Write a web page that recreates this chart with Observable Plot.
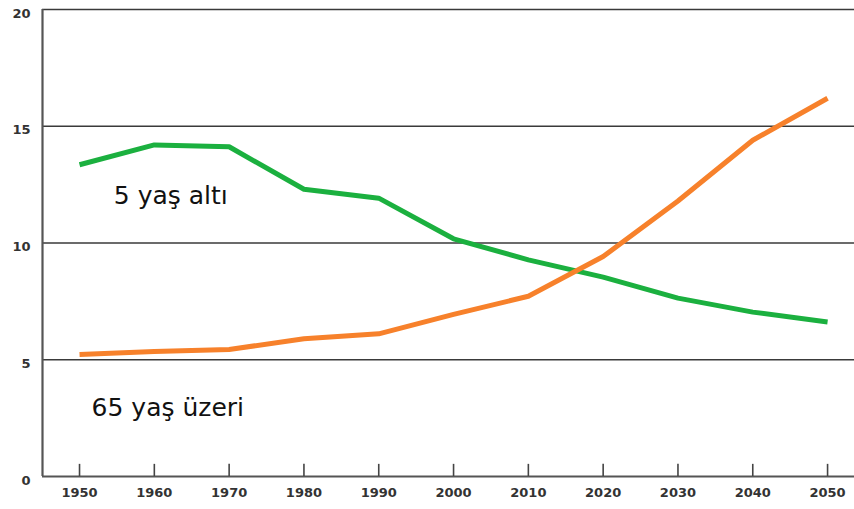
<!DOCTYPE html>
<html>
<head>
<meta charset="utf-8">
<script src="https://cdn.jsdelivr.net/npm/d3@7"></script>
<script src="https://cdn.jsdelivr.net/npm/@observablehq/plot@0.6"></script>
<style>
  html, body { margin: 0; padding: 0; background: #fff; }
  #chart svg { display: block; }
</style>
</head>
<body>
<div id="chart"></div>
<script>
const years = [1950, 1960, 1970, 1980, 1990, 2000, 2010, 2020, 2030, 2040, 2050];
const under5 = [13.35, 14.2, 14.12, 12.3, 11.92, 10.18, 9.28, 8.54, 7.64, 7.04, 6.62];
const over65 = [5.22, 5.35, 5.44, 5.9, 6.11, 6.94, 7.72, 9.42, 11.8, 14.4, 16.2];
const yTicks = [0, 5, 10, 15, 20];
const gridValues = [5, 10, 15, 20];
const seriesNames = ["5 yaş altı", "65 yaş üzeri"];
const seriesColors = ["#1bb03f", "#f7812b"];
const labelYears = [1962.2, 1961.8];
const labelValues = [12.0, 2.95];

const rows = [];
years.forEach((yr, i) => {
  rows.push({year: yr, value: under5[i], series: seriesNames[0]});
  rows.push({year: yr, value: over65[i], series: seriesNames[1]});
});
const labels = seriesNames.map((s, i) => ({name: s, year: labelYears[i], value: labelValues[i]}));

const chart = Plot.plot({
  width: 854,
  height: 509,
  marginLeft: 42,
  marginRight: 0,
  marginTop: 9,
  marginBottom: 33,
  style: {background: "#fff", fontFamily: "DejaVu Sans"},
  x: {domain: [1945.05, 2053.6], ticks: years, tickFormat: d => String(d), label: null},
  y: {domain: [0, 20], ticks: yTicks, label: null},
  color: {domain: seriesNames, range: seriesColors},
  marks: [
    Plot.ruleY(gridValues, {stroke: "#3a3a3a", strokeWidth: 1.6}),
    Plot.ruleY([0], {stroke: "#555", strokeWidth: 2.2}),
    Plot.ruleX([1945.05], {y1: 0, y2: 20, stroke: "#555", strokeWidth: 2.2}),
    Plot.ruleX(years, {y1: 0, y2: 0.52, stroke: "#444", strokeWidth: 1.6}),
    Plot.axisX({ticks: years, tickSize: 0, tickPadding: 11, fontSize: 13, fontWeight: "bold", fill: "#333", tickFormat: d => String(d), label: null}),
    Plot.axisY({ticks: yTicks, tickSize: 0, tickPadding: 12, fontSize: 13, fontWeight: "bold", fill: "#333", dy: 4, label: null}),
    Plot.line(rows, {x: "year", y: "value", z: "series", stroke: "series", strokeWidth: 5, strokeLinejoin: "round", strokeLinecap: "butt"}),
    Plot.text(labels, {x: "year", y: "value", text: "name", fontSize: 25, fill: "#111", fontFamily: "DejaVu Sans"})
  ]
});
document.getElementById("chart").appendChild(chart);
</script>
</body>
</html>
